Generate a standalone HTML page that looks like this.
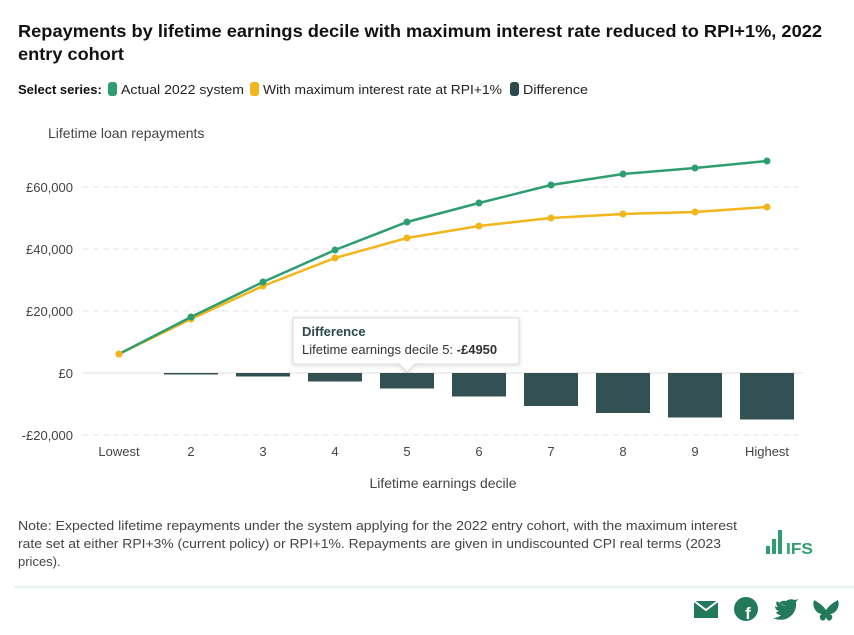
<!DOCTYPE html>
<html><head><meta charset="utf-8"><style>
body{margin:0;background:#fff;width:854px;height:630px;overflow:hidden;font-family:"Liberation Sans",sans-serif;}
</style></head><body>
<svg width="854" height="630" xmlns="http://www.w3.org/2000/svg" font-family="Liberation Sans, sans-serif">
<text x="18" y="37" font-size="17.5" font-weight="bold" fill="#111" textLength="804" lengthAdjust="spacingAndGlyphs">Repayments by lifetime earnings decile with maximum interest rate reduced to RPI+1%, 2022</text>
<text x="18" y="60" font-size="17.5" font-weight="bold" fill="#111" textLength="106" lengthAdjust="spacingAndGlyphs">entry cohort</text>
<text x="18" y="94" font-size="13" font-weight="bold" fill="#111">Select series:</text>
<rect x="108" y="82" width="9" height="14" rx="3" fill="#2e9e72"/>
<text x="121" y="94" font-size="13" fill="#222" textLength="123" lengthAdjust="spacingAndGlyphs">Actual 2022 system</text>
<rect x="250" y="82" width="9" height="14" rx="3" fill="#f2b51b"/>
<text x="263" y="94" font-size="13" fill="#222" textLength="239" lengthAdjust="spacingAndGlyphs">With maximum interest rate at RPI+1%</text>
<rect x="510" y="82" width="9" height="14" rx="3" fill="#2b4a4c"/>
<text x="523" y="94" font-size="13" fill="#222" textLength="65" lengthAdjust="spacingAndGlyphs">Difference</text>
<text x="48" y="138" font-size="14" fill="#444">Lifetime loan repayments</text>
<g stroke="#e6e6e6" stroke-dasharray="6,4">
<line x1="83" x2="803" y1="187" y2="187"/><line x1="83" x2="803" y1="249" y2="249"/>
<line x1="83" x2="803" y1="311" y2="311"/><line x1="83" x2="803" y1="435" y2="435"/>
</g>
<line x1="83" x2="803" y1="373" y2="373" stroke="#ddd"/>
<g font-size="13" fill="#444" text-anchor="end">
<text x="73" y="192">£60,000</text><text x="73" y="254">£40,000</text><text x="73" y="316">£20,000</text>
<text x="73" y="378">£0</text><text x="73" y="440">-£20,000</text>
</g>
<g fill="#335053">
<rect x="164" y="373" width="54" height="1.5"/><rect x="236" y="373" width="54" height="3.5"/>
<rect x="308" y="373" width="54" height="8.5"/><rect x="380" y="373" width="54" height="15.5"/>
<rect x="452" y="373" width="54" height="23.5"/><rect x="524" y="373" width="54" height="33"/>
<rect x="596" y="373" width="54" height="40"/><rect x="668" y="373" width="54" height="44.5"/>
<rect x="740" y="373" width="54" height="46.5"/>
</g>
<polyline fill="none" stroke="#f2b51b" stroke-width="2.5" points="119,354 191,319 263,286 335,258 407,238 479,226 551,218 623,214 695,212 767,207"/>
<g fill="#f2b51b"><circle cx="119" cy="354" r="3.5"/><circle cx="191" cy="319" r="3.5"/><circle cx="263" cy="286" r="3.5"/><circle cx="335" cy="258" r="3.5"/><circle cx="407" cy="238" r="3.5"/><circle cx="479" cy="226" r="3.5"/><circle cx="551" cy="218" r="3.5"/><circle cx="623" cy="214" r="3.5"/><circle cx="695" cy="212" r="3.5"/><circle cx="767" cy="207" r="3.5"/></g>
<polyline fill="none" stroke="#2e9e72" stroke-width="2.5" points="119,354 191,317 263,282 335,250 407,222 479,203 551,185 623,174 695,168 767,161"/>
<g fill="#2e9e72"><circle cx="191" cy="317" r="3.5"/><circle cx="263" cy="282" r="3.5"/><circle cx="335" cy="250" r="3.5"/><circle cx="407" cy="222" r="3.5"/><circle cx="479" cy="203" r="3.5"/><circle cx="551" cy="185" r="3.5"/><circle cx="623" cy="174" r="3.5"/><circle cx="695" cy="168" r="3.5"/><circle cx="767" cy="161" r="3.5"/></g>
<circle cx="119" cy="354" r="3.5" fill="#f2b51b"/>
<g font-size="13" fill="#444" text-anchor="middle">
<text x="119" y="456">Lowest</text><text x="191" y="456">2</text><text x="263" y="456">3</text><text x="335" y="456">4</text><text x="407" y="456">5</text><text x="479" y="456">6</text><text x="551" y="456">7</text><text x="623" y="456">8</text><text x="695" y="456">9</text><text x="767" y="456">Highest</text>
</g>
<text x="443" y="488" font-size="14" fill="#444" text-anchor="middle">Lifetime earnings decile</text>
<path d="M293,318 h226 v46 h-104 l-8,8 l-8,-8 h-106 z" fill="#fff" stroke="#ddd" filter="drop-shadow(0 1px 2px rgba(0,0,0,.15))"/>
<text x="302" y="336" font-size="13" font-weight="bold" fill="#2b4a4c">Difference</text>
<text x="302" y="354" font-size="13" fill="#333">Lifetime earnings decile 5: <tspan font-weight="bold">-£4950</tspan></text>
<g font-size="13" fill="#444">
<text x="18" y="530" textLength="719" lengthAdjust="spacingAndGlyphs">Note: Expected lifetime repayments under the system applying for the 2022 entry cohort, with the maximum interest</text>
<text x="18" y="548" textLength="703" lengthAdjust="spacingAndGlyphs">rate set at either RPI+3% (current policy) or RPI+1%. Repayments are given in undiscounted CPI real terms (2023</text>
<text x="18" y="566">prices).</text>
</g>
<g fill="#2e9e72">
<rect x="766" y="546" width="4" height="8"/><rect x="772" y="539" width="4" height="15"/><rect x="778" y="530" width="4" height="24"/>
<text x="786" y="554" font-size="16" font-weight="bold" textLength="27" lengthAdjust="spacingAndGlyphs">IFS</text>
</g>
<line x1="14" x2="854" y1="587" y2="587" stroke="#cfe0e0"/>
<g fill="#237a5a">
<rect x="694" y="601" width="24" height="17"/>
<path d="M694,601 l12,9 l12,-9" fill="none" stroke="#fff" stroke-width="2"/>
<circle cx="746" cy="609" r="12"/>
<text x="748" y="619" font-size="17" font-weight="bold" fill="#fff" text-anchor="middle">f</text>
<path d="M779,603 q3,-3 7,-2 q4,-3 9,-1 l3,-1 l-2,3 q1,12 -10,17 q-7,2 -13,-1 q5,0 8,-3 q-4,0 -5,-3 q2,0 3,-1 q-4,-1 -4,-5 q1,1 3,1 q-3,-3 -1,-6 q4,4 9,5 z"/>
<path d="M814,600 q8,4 12,10 q4,-6 12,-10 q2,6 -2,11 q-3,3 -6,3 q4,2 1,6 q-4,2 -5,-3 q-1,5 -5,3 q-3,-4 1,-6 q-3,0 -6,-3 q-4,-5 -2,-11 z"/>
</g>
</svg>
</body></html>
